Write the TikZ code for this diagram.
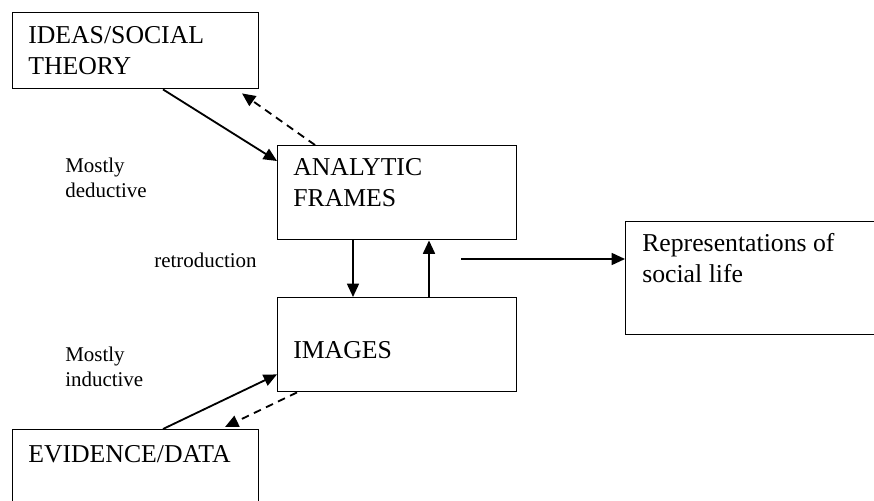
\documentclass[tikz,border=0pt]{standalone}
\usepackage{fontspec}
\setmainfont{Liberation Serif}
\usetikzlibrary{arrows.meta,calc}
\tikzset{
  box/.style={draw,line width=1pt,rectangle,inner sep=0pt,anchor=north west},
  boxtext/.style={font=\fontsize{18.3}{21.5}\selectfont,align=left,anchor=base west,inner sep=0pt},
  note/.style={font=\fontsize{14.9}{17.7}\selectfont,align=left,anchor=base west,inner sep=0pt},
  link/.style={line width=1.3pt,-{Triangle[length=9.5pt,width=8.5pt]}},
  back/.style={link,dash pattern=on 5.5pt off 4pt},
}
\begin{document}
\begin{tikzpicture}[x=0.025cm,y=-0.025cm]
  \useasboundingbox (0,0) rectangle (874,500);
  \clip (0,0) rectangle (874,500);
  %% boxes
  \node[box,minimum width=6.15cm,minimum height=1.9cm] (ideas) at (12,12) {};
  \node[box,minimum width=5.975cm,minimum height=2.35cm] (frames) at (277,145) {};
  \node[box,minimum width=5.975cm,minimum height=2.35cm] (images) at (277,297) {};
  \node[box,minimum width=6.15cm,minimum height=2.5cm] (evidence) at (12,429) {};
  \node[box,minimum width=7.5cm,minimum height=2.825cm] (reps) at (625,221) {};
  %% box texts (base = last line)
  \node[boxtext] (ideastxt) at (28,74) {IDEAS/SOCIAL\\THEORY};
  \node[boxtext] (framestxt) at (293,206) {ANALYTIC\\FRAMES};
  \node[boxtext] (imagestxt) at (293,358) {IMAGES};
  \node[boxtext] (evidencetxt) at (28,462) {EVIDENCE/DATA};
  \node[boxtext] (repstxt) at (642,282) {Representations of\\social life};
  %% side notes
  \node[note] (deduct) at (65,197) {Mostly\\deductive};
  \node[note] (retro) at (154,267) {retroduction};
  \node[note] (induct) at (65,386) {Mostly\\inductive};
  %% arrows
  \draw[link] ($(ideas.south west)+(151,0)$) -- ($(frames.north west)+(0,16)$);
  \draw[back] ($(frames.north west)+(38,0)$) -- ($(ideas.south west)+(230,4)$);
  \draw[link] ($(frames.south west)+(76,0)$) -- ($(images.north west)+(76,0)$);
  \draw[link] ($(images.north west)+(152,0)$) -- ($(frames.south west)+(152,0)$);
  \coordinate (out) at (461,259);
  \draw[link] (out) -- (out -| reps.west);
  \draw[link] ($(evidence.north west)+(151,0)$) -- ($(images.south west)+(0,-18)$);
  \draw[back] ($(images.south west)+(20,0)$) -- ($(evidence.north west)+(213,-2)$);
\end{tikzpicture}
\end{document}
